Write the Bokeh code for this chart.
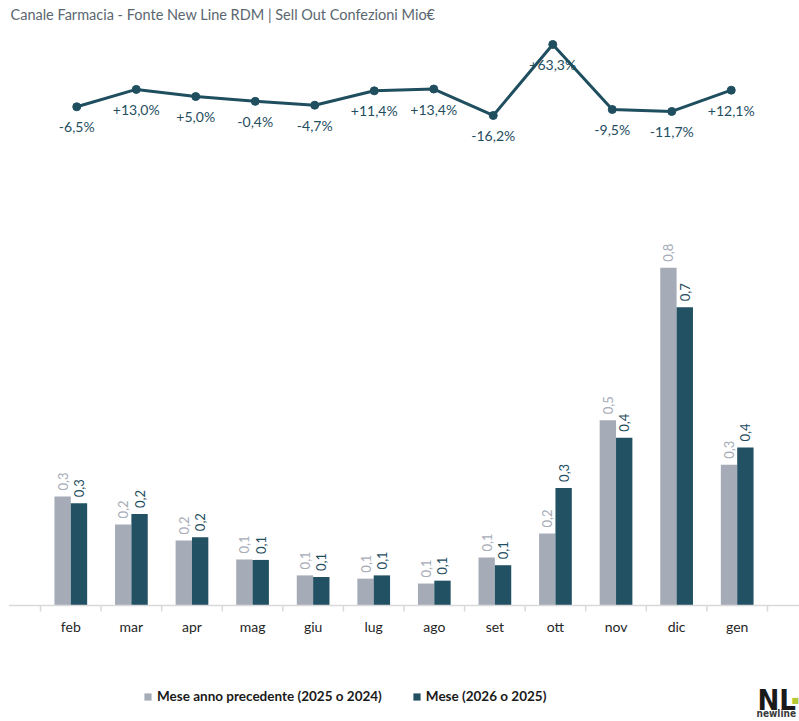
import numpy as np
from bokeh.plotting import figure
from bokeh.models import (ColumnDataSource, Range1d, CategoricalAxis,
                          Legend, LegendItem, Label, FactorRange)
from bokeh.transform import dodge
from bokeh.core.properties import value
from bokeh.embed import file_html
from bokeh.resources import INLINE

# ---------------- data ----------------
months = ["feb", "mar", "apr", "mag", "giu", "lug", "ago", "set", "ott", "nov", "dic", "gen"]
prev_year = [0.268, 0.199, 0.160, 0.113, 0.074, 0.066, 0.054, 0.118, 0.177, 0.455, 0.830, 0.346]
curr_year = [0.251, 0.225, 0.168, 0.112, 0.070, 0.074, 0.061, 0.099, 0.289, 0.412, 0.733, 0.388]
growth_pct = [-6.5, 13.0, 5.0, -0.4, -4.7, 11.4, 13.4, -16.2, 63.3, -9.5, -11.7, 12.1]

title_text = "Canale Farmacia - Fonte New Line RDM | Sell Out Confezioni Mio€"
legend_prev = "Mese anno precedente (2025 o 2024)"
legend_curr = "Mese (2026 o 2025)"

# ---------------- style ----------------
C_PREV = "#a6acb7"
C_CURR = "#215163"
C_LINE = "#1f4e5f"
C_AXIS = "#d9d9d9"
FONT = "Lato"
LOGO_FONT = "DejaVu Sans Condensed, Roboto, sans-serif"


def fmt_val(v):
    return f"{v:.1f}".replace(".", ",")


def fmt_pct(g):
    return f"{g:+.1f}%".replace(".", ",")


src = ColumnDataSource(dict(
    month=months,
    prev=prev_year,
    curr=curr_year,
    prev_lbl=[fmt_val(v) for v in prev_year],
    curr_lbl=[fmt_val(v) for v in curr_year],
    growth=growth_pct,
    growth_lbl=[fmt_pct(g) for g in growth_pct],
))
last_src = ColumnDataSource(dict(month=months[-1:]))

W, H = 799, 721
TICK = 0.0147  # boundary tick depth below the baseline, in data units
p = figure(width=W, height=H, output_backend="svg", toolbar_location=None,
           x_range=FactorRange(*months, range_padding=0.5285, range_padding_units="absolute"),
           y_range=Range1d(-0.2850, 1.4865),
           x_axis_location=None, y_axis_location=None,
           min_border_left=8, min_border_right=0, min_border_top=0, min_border_bottom=0)
p.outline_line_color = None
p.grid.visible = False
p.background_fill_color = "white"
p.border_fill_color = "white"

p.extra_x_ranges = {"line": FactorRange(*months, range_padding=0.647, range_padding_units="absolute")}
p.extra_y_ranges = {"line": Range1d(-694.8, 112.54)}

cat_axis = CategoricalAxis(fixed_location=0, axis_line_color=C_AXIS, axis_line_width=1.5,
                           major_tick_line_color=None,
                           major_tick_in=0, major_tick_out=0, major_label_standoff=12,
                           major_label_text_font=FONT, major_label_text_font_size="14px",
                           major_label_text_color="#262626")
p.add_layout(cat_axis, "below")

# category boundary ticks
p.segment(x0=dodge("month", -0.5, range=p.x_range), y0=0,
          x1=dodge("month", -0.5, range=p.x_range), y1=-TICK,
          source=src, line_color=C_AXIS, line_width=1.5)
p.segment(x0=dodge("month", 0.5, range=p.x_range), y0=0,
          x1=dodge("month", 0.5, range=p.x_range), y1=-TICK,
          source=last_src, line_color=C_AXIS, line_width=1.5)

# bars
BW = 0.27
r_prev = p.vbar(x=dodge("month", -0.135, range=p.x_range), top="prev", width=BW, source=src,
                fill_color=C_PREV, line_color=None)
r_curr = p.vbar(x=dodge("month", 0.135, range=p.x_range), top="curr", width=BW, source=src,
                fill_color=C_CURR, line_color=None)

p.text(x=dodge("month", -0.135, range=p.x_range), y="prev", text="prev_lbl", source=src,
       angle=np.pi / 2, text_align="left", text_baseline="middle", y_offset=-6,
       text_font=value(FONT), text_font_size=value("13px"), text_color=C_PREV)
p.text(x=dodge("month", 0.135, range=p.x_range), y="curr", text="curr_lbl", source=src,
       angle=np.pi / 2, text_align="left", text_baseline="middle", y_offset=-6,
       text_font=value(FONT), text_font_size=value("13px"), text_color=C_LINE)

# growth line
p.line(x="month", y="growth", source=src, x_range_name="line", y_range_name="line",
       line_color=C_LINE, line_width=3)
p.scatter(x="month", y="growth", source=src, x_range_name="line", y_range_name="line",
          size=8, fill_color=C_LINE, line_color=C_LINE)
p.text(x="month", y="growth", text="growth_lbl", source=src, x_range_name="line", y_range_name="line",
       text_align="center", text_baseline="middle", y_offset=20,
       text_font=value(FONT), text_font_size=value("14px"), text_color=C_LINE)

# legend
legend = Legend(items=[LegendItem(label=legend_prev, renderers=[r_prev]),
                       LegendItem(label=legend_curr, renderers=[r_curr])],
                orientation="horizontal", location=(135, 17), margin=0, padding=0,
                glyph_width=9, glyph_height=9, label_standoff=5, spacing=30,
                label_text_font=FONT, label_text_font_size="13.5px", label_text_font_style="bold",
                label_text_color="#1a1a1a", border_line_color=None, background_fill_alpha=0)
p.add_layout(legend, "center")

# title
p.add_layout(Label(x=2, y=707, x_units="screen", y_units="screen", text=title_text,
                   text_font=FONT, text_font_size="14.5px", text_color="#5b6770",
                   text_baseline="middle", text_align="left"))

# logo
p.add_layout(Label(x=749, y=22, x_units="screen", y_units="screen", text="NL",
                   text_font=LOGO_FONT, text_font_size="29px", text_font_style="bold",
                   text_color="#1a1a1a", text_baseline="alphabetic", text_align="left"))
p.add_layout(Label(x=748, y=8, x_units="screen", y_units="screen", text="newline",
                   text_font=LOGO_FONT, text_font_size="10px", text_font_style="bold",
                   text_color="#3a3a3a", text_baseline="alphabetic", text_align="left"))
p.add_layout(Label(x=783, y=21, x_units="screen", y_units="screen", text="■",
                   text_font="DejaVu Sans", text_font_size="8px",
                   text_color="#b5c934", text_baseline="alphabetic", text_align="left"))

open("out.html", "w").write(file_html(p, INLINE))
